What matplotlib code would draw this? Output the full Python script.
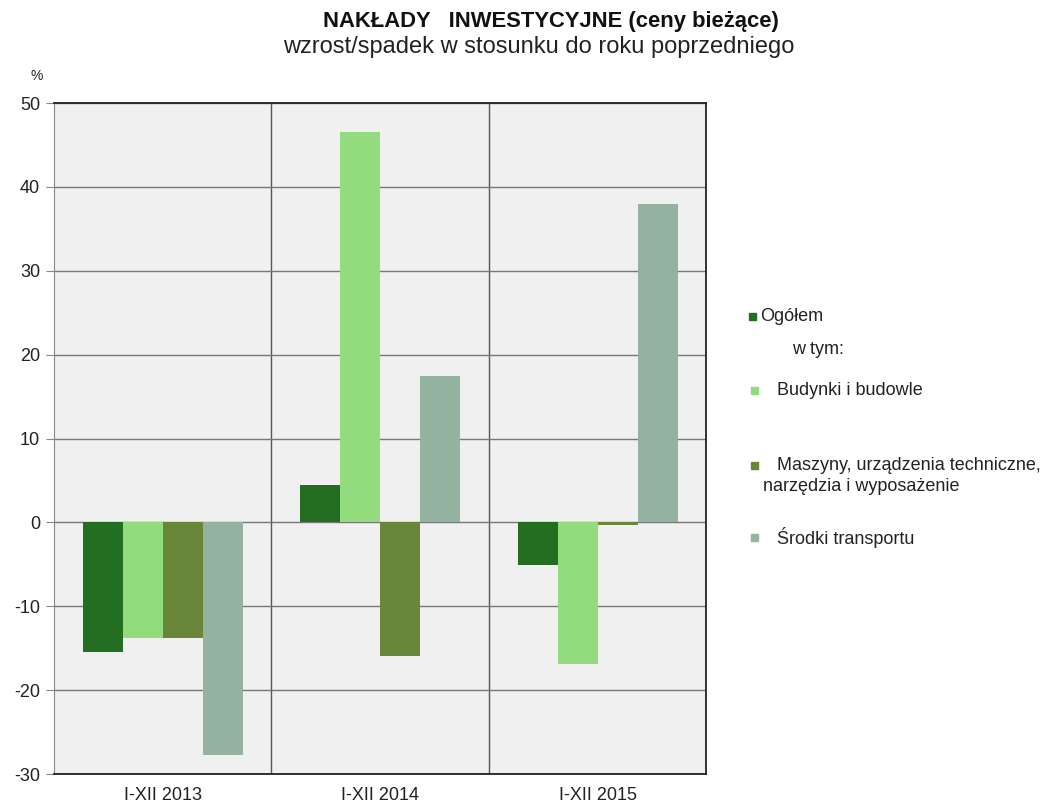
import numpy as np
import matplotlib.pyplot as plt
from matplotlib.patches import Rectangle

plt.rcParams['font.family'] = ['Liberation Sans', 'DejaVu Sans']
plt.rcParams['axes.unicode_minus'] = False

# data
periods = ['I-XII 2013', 'I-XII 2014', 'I-XII 2015']
ogolem = [-15.5, 4.5, -5.1]
budynki = [-13.8, 46.5, -16.9]
maszyny = [-13.8, -15.9, -0.3]
transport = [-27.7, 17.5, 38.0]

series = [ogolem, budynki, maszyny, transport]
names = ['Ogółem', 'Budynki i budowle',
         'Maszyny, urządzenia techniczne,\nnarzędzia i wyposażenie',
         'Środki transportu']
colors = ['#236f22', '#92dc7e', '#6a8638', '#93b3a0']

fig = plt.figure(figsize=(10.54, 8.05), dpi=100)
ax = fig.add_axes([0.0512, 0.0385, 0.619, 0.8335])
ax.set_facecolor('#f0f0f0')

x = np.arange(len(periods))
w = 0.184
for j, vals in enumerate(series):
    ax.bar(x + (j - 1.5) * w, vals, w, color=colors[j], zorder=3)

ax.set_xlim(-0.5, 2.5)
ax.set_ylim(-30, 50)
ax.set_yticks(range(-30, 51, 10))
ax.set_xticks(x)
ax.set_xticklabels(periods, fontsize=13, color='#222222')
ax.tick_params(axis='x', length=0, pad=9)
ax.tick_params(axis='y', length=6, color='#888888', labelsize=13, labelcolor='#222222', pad=4)
ax.grid(axis='y', color='#777777', lw=1, zorder=1)
for b in [0.5, 1.5]:
    ax.axvline(b, color='#555555', lw=1, zorder=1)
for s in ['top', 'right', 'bottom']:
    ax.spines[s].set_color('#222222')
    ax.spines[s].set_linewidth(1.3)
ax.spines['left'].set_color('#888888')

fig.text(0.523, 0.973, 'NAKŁADY   INWESTYCYJNE (ceny bieżące)', ha='center', va='center',
         fontsize=15.8, fontweight='bold', color='#111111')
fig.text(0.511, 0.942, 'wzrost/spadek w stosunku do roku poprzedniego', ha='center', va='center',
         fontsize=17, color='#222222')
fig.text(0.035, 0.905, '%', ha='center', va='center', fontsize=10, color='#222222')

# legend drawn by hand to match the irregular layout
leg_y = [316, 390, 465, 537]
sq_x = [749, 751, 751, 751]
txt_x = [760, 777, 777, 777]
for j in range(4):
    yf = 1 - leg_y[j] / 805
    fig.patches.append(Rectangle((sq_x[j] / 1054, yf - 0.0045), 7 / 1054, 7 / 805,
                                 transform=fig.transFigure, color=colors[j]))
    first, *rest = names[j].split('\n')
    fig.text(txt_x[j] / 1054, yf, first, ha='left', va='center', fontsize=13, color='#222222')
    if rest:
        fig.text(763 / 1054, yf - 21 / 805, rest[0], ha='left', va='center', fontsize=13, color='#222222')
fig.text(792 / 1054, 1 - 349 / 805, 'w tym:', ha='left', va='center', fontsize=13, color='#222222')

fig.savefig('out.png', dpi=100)
